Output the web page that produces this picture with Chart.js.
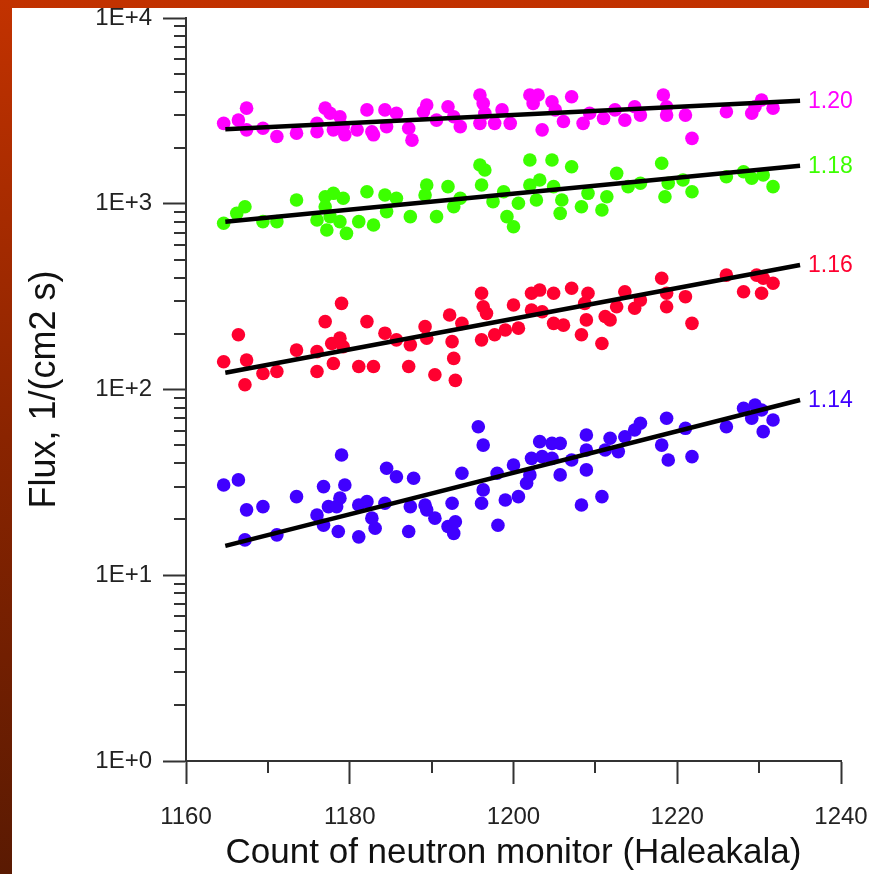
<!DOCTYPE html>
<html>
<head>
<meta charset="utf-8">
<script src="https://cdn.jsdelivr.net/npm/chart.js@4"></script>
<style>
  html, body { margin: 0; padding: 0; }
  body {
    width: 869px; height: 874px; position: relative; overflow: hidden;
    background: linear-gradient(to bottom, #c23200 0%, #8a2400 50%, #5a1a02 100%);
  }
  #sheet { position: absolute; left: 12px; top: 8px; right: 0; bottom: 0; background: #fff; }
  #chart { position: absolute; left: 0; top: 0; }
</style>
</head>
<body>
<div id="sheet"></div>
<canvas id="chart" width="869" height="874"></canvas>
<script>
// neutron monitor count (x) vs flux (y) for four thresholds
const flux120X = [1164.6, 1166.4, 1167.4, 1167.4, 1169.4, 1171.1, 1173.5, 1176.0, 1176.0, 1177.0, 1177.6, 1178.0, 1178.8, 1179.2, 1179.4, 1180.9, 1182.1, 1182.7, 1182.9, 1184.3, 1184.5, 1185.7, 1187.2, 1187.6, 1189.4, 1189.0, 1190.6, 1192.0, 1192.7, 1193.5, 1195.9, 1196.3, 1196.5, 1195.9, 1197.7, 1198.6, 1199.6, 1202.0, 1203.0, 1202.4, 1204.7, 1205.1, 1206.1, 1207.1, 1203.5, 1208.5, 1209.3, 1211.0, 1212.4, 1213.6, 1214.8, 1215.5, 1218.3, 1218.7, 1218.7, 1221.0, 1221.8, 1226.0, 1229.1, 1229.5, 1230.3, 1231.7];
const flux120Y = [2710, 2820, 3270, 2500, 2550, 2300, 2400, 2710, 2440, 3270, 3070, 2500, 2940, 2600, 2350, 2500, 3200, 2440, 2350, 3200, 2600, 3070, 2550, 2200, 3400, 3130, 2820, 3330, 2940, 2600, 3850, 3470, 3070, 2710, 2710, 3200, 2710, 3850, 3850, 3470, 3540, 3200, 2770, 3770, 2500, 2710, 3070, 2880, 3200, 2820, 3330, 3000, 3850, 3330, 3000, 3000, 2250, 3130, 3070, 3330, 3620, 3270];

const flux118X = [1164.6, 1166.2, 1167.2, 1169.4, 1171.1, 1173.5, 1176.0, 1177.0, 1177.0, 1177.6, 1177.2, 1178.0, 1178.8, 1179.2, 1179.6, 1181.1, 1182.1, 1182.9, 1184.3, 1184.5, 1185.7, 1187.4, 1189.4, 1189.2, 1190.6, 1192.0, 1192.7, 1193.5, 1195.9, 1196.5, 1196.1, 1197.5, 1198.8, 1199.2, 1200.0, 1200.6, 1202.0, 1202.0, 1203.2, 1202.8, 1204.7, 1204.9, 1205.9, 1205.7, 1207.1, 1208.3, 1209.1, 1210.8, 1211.4, 1212.6, 1214.0, 1215.5, 1218.1, 1218.5, 1218.9, 1220.7, 1221.8, 1226.0, 1228.1, 1229.1, 1230.5, 1231.7];
const flux118Y = [785, 888, 964, 801, 801, 1048, 818, 1091, 964, 852, 722, 1138, 801, 1070, 693, 801, 1161, 768, 1115, 907, 1070, 852, 1262, 1115, 852, 1236, 964, 1070, 1617, 1520, 1262, 1026, 1161, 852, 752, 1006, 1720, 1262, 1343, 1048, 1720, 1236, 1048, 888, 1583, 964, 1138, 925, 1091, 1458, 1236, 1289, 1651, 1091, 1289, 1343, 1161, 1398, 1488, 1371, 1428, 1236];

const flux116X = [1164.6, 1166.4, 1167.4, 1167.2, 1169.4, 1171.1, 1173.5, 1176.0, 1176.0, 1177.0, 1177.8, 1178.0, 1178.8, 1179.2, 1179.0, 1181.1, 1182.1, 1182.9, 1184.3, 1185.7, 1187.2, 1187.4, 1189.2, 1189.4, 1190.4, 1192.2, 1192.5, 1192.7, 1192.9, 1193.7, 1196.1, 1196.3, 1196.7, 1196.1, 1197.7, 1199.0, 1200.0, 1200.6, 1202.2, 1203.2, 1202.2, 1203.5, 1204.9, 1204.9, 1206.1, 1207.1, 1208.3, 1208.9, 1209.1, 1208.7, 1210.8, 1211.2, 1211.8, 1212.6, 1213.6, 1214.8, 1215.5, 1218.1, 1218.7, 1218.7, 1221.0, 1221.8, 1226.0, 1228.1, 1229.7, 1230.3, 1230.5, 1231.7];
const flux116Y = [141, 197, 144, 106, 122, 125, 163, 160, 125, 232, 177, 138, 189, 170, 291, 133, 232, 133, 201, 185, 133, 174, 218, 189, 120, 252, 181, 147, 112, 227, 330, 279, 257, 185, 197, 209, 285, 214, 330, 343, 268, 262, 330, 227, 222, 351, 197, 237, 330, 291, 177, 247, 237, 279, 336, 274, 303, 397, 330, 279, 316, 227, 413, 336, 413, 330, 397, 373];

const flux114X = [1164.6, 1166.4, 1167.4, 1167.2, 1169.4, 1171.1, 1173.5, 1176.0, 1176.8, 1176.8, 1177.4, 1178.4, 1178.8, 1178.6, 1179.0, 1179.4, 1181.1, 1181.1, 1182.1, 1182.7, 1183.1, 1184.3, 1184.5, 1185.7, 1187.2, 1187.4, 1187.8, 1189.2, 1189.4, 1190.4, 1192.0, 1192.5, 1192.7, 1192.9, 1193.7, 1195.7, 1196.3, 1196.3, 1196.1, 1198.0, 1198.1, 1199.0, 1200.0, 1200.6, 1201.6, 1202.0, 1202.2, 1203.2, 1203.5, 1204.7, 1205.7, 1204.7, 1205.7, 1207.1, 1208.3, 1208.9, 1208.9, 1208.9, 1210.8, 1211.2, 1211.8, 1212.8, 1213.6, 1214.8, 1215.5, 1218.1, 1218.7, 1218.9, 1221.0, 1221.8, 1226.0, 1228.1, 1229.1, 1229.5, 1230.3, 1230.5, 1231.7];
const flux114Y = [30.6, 32.6, 22.5, 15.5, 23.4, 16.5, 26.5, 21.1, 30.0, 18.6, 23.4, 23.4, 26.0, 17.2, 44.4, 30.6, 23.9, 16.1, 24.9, 20.3, 17.9, 24.4, 37.7, 33.9, 17.2, 23.4, 33.3, 23.9, 22.5, 20.3, 18.3, 24.4, 16.8, 19.4, 35.4, 63.0, 50.2, 28.8, 24.4, 35.4, 18.6, 25.4, 39.2, 26.5, 31.3, 34.7, 42.6, 52.4, 43.5, 51.3, 51.3, 42.6, 34.7, 41.7, 23.9, 56.9, 47.2, 36.9, 26.5, 47.2, 54.6, 46.3, 55.7, 60.5, 65.8, 50.2, 70.0, 41.7, 61.8, 43.5, 63.0, 79.2, 70.0, 82.5, 77.6, 59.3, 68.5];

// fitted lines: end points
const fitX = [1164.8, 1235];
const fit120Y = [2517, 3588];
const fit118Y = [801, 1603];
const fit116Y = [123, 468];
const fit114Y = [14.4, 87.8];

const seriesLabels = ["1.20", "1.18", "1.16", "1.14"];
const seriesColors = ["#ff00ff", "#3cff00", "#ff0030", "#4000ff"];

const xTicks = [1160, 1180, 1200, 1220, 1240];
const xMinorTicks = [1170, 1190, 1210, 1230];
const yTicks = [1, 10, 100, 1000, 10000];
const yTickLabels = ["1E+0", "1E+1", "1E+2", "1E+3", "1E+4"];
const yMinorTicks = [];
for (const decade of [1, 10, 100, 1000]) {
  for (let m = 2; m <= 9; m++) yMinorTicks.push(m * decade);
}

const FONT = "'Liberation Sans', Arial, sans-serif";
const AXIS = "#333333";

function pts(xs, ys) {
  return xs.map((x, i) => ({ x, y: ys[i] }));
}

const scatterSets = [
  [flux120X, flux120Y],
  [flux118X, flux118Y],
  [flux116X, flux116Y],
  [flux114X, flux114Y],
].map(([xs, ys], i) => ({
  type: "scatter",
  label: seriesLabels[i],
  data: pts(xs, ys),
  backgroundColor: seriesColors[i],
  borderWidth: 0,
  pointRadius: 6.8,
  order: 2,
}));

const fitSets = [fit120Y, fit118Y, fit116Y, fit114Y].map((ys, i) => ({
  type: "line",
  label: "fit " + seriesLabels[i],
  data: pts(fitX, ys),
  borderColor: "#000",
  borderWidth: 4.5,
  pointRadius: 0,
  fill: false,
  order: 1,
}));

// short minor ticks, drawn through the scales
const minorTicks = {
  id: "minorTicks",
  afterDraw(chart) {
    const { ctx, scales: { x, y } } = chart;
    ctx.save();
    ctx.strokeStyle = AXIS;
    ctx.lineWidth = 2;
    ctx.beginPath();
    for (const v of yMinorTicks) {
      const py = Math.round(y.getPixelForValue(v));
      ctx.moveTo(x.left - 12, py);
      ctx.lineTo(x.left, py);
    }
    for (const v of xMinorTicks) {
      const px = Math.round(x.getPixelForValue(v));
      ctx.moveTo(px, y.bottom);
      ctx.lineTo(px, y.bottom + 12);
    }
    ctx.stroke();
    ctx.restore();
  },
};

// value labels at the right end of each fit line
const endLabels = {
  id: "endLabels",
  afterDatasetsDraw(chart) {
    const { ctx, scales: { x, y } } = chart;
    ctx.save();
    ctx.font = `23px ${FONT}`;
    ctx.textAlign = "left";
    ctx.textBaseline = "middle";
    [fit120Y, fit118Y, fit116Y, fit114Y].forEach((ys, i) => {
      ctx.fillStyle = seriesColors[i];
      ctx.fillText(seriesLabels[i], x.getPixelForValue(fitX[1]) + 8, y.getPixelForValue(ys[1]) + 1);
    });
    ctx.restore();
  },
};

new Chart(document.getElementById("chart"), {
  data: { datasets: [...scatterSets, ...fitSets] },
  options: {
    responsive: false,
    animation: false,
    devicePixelRatio: 1,
    layout: { padding: { left: 0, right: 28, top: 18, bottom: 0 } },
    plugins: { legend: { display: false }, tooltip: { enabled: false } },
    scales: {
      x: {
        type: "linear",
        min: 1160,
        max: 1240,
        afterBuildTicks: s => { s.ticks = xTicks.map(v => ({ value: v })); },
        afterFit: s => { s.height = 113; s.paddingLeft = 0; s.paddingRight = 0; },
        ticks: {
          color: "#222",
          font: { family: FONT, size: 24 },
          padding: 19,
          maxRotation: 0,
          callback: v => String(v),
        },
        grid: { drawOnChartArea: false, drawTicks: true, tickLength: 23, tickColor: AXIS, tickWidth: 2 },
        border: { display: true, color: AXIS, width: 2 },
        title: {
          display: true,
          text: "Count of neutron monitor (Haleakala)",
          color: "#111",
          font: { family: FONT, size: 35 },
          padding: { top: 0, bottom: 0 },
        },
      },
      y: {
        type: "logarithmic",
        min: 1,
        max: 10000,
        afterBuildTicks: s => { s.ticks = yTicks.map(v => ({ value: v })); },
        afterFit: s => { s.width = 186; s.paddingTop = 0; s.paddingBottom = 0; },
        ticks: {
          color: "#222",
          font: { family: FONT, size: 24 },
          padding: 11,
          callback: (v) => yTickLabels[yTicks.indexOf(v)],
        },
        grid: { drawOnChartArea: false, drawTicks: true, tickLength: 23, tickColor: AXIS, tickWidth: 2 },
        border: { display: true, color: AXIS, width: 2 },
        title: {
          display: true,
          text: "Flux, 1/(cm2 s)",
          color: "#111",
          font: { family: FONT, size: 36 },
          padding: { top: 23, bottom: 0 },
        },
      },
    },
  },
  plugins: [minorTicks, endLabels],
});
</script>
</body>
</html>
